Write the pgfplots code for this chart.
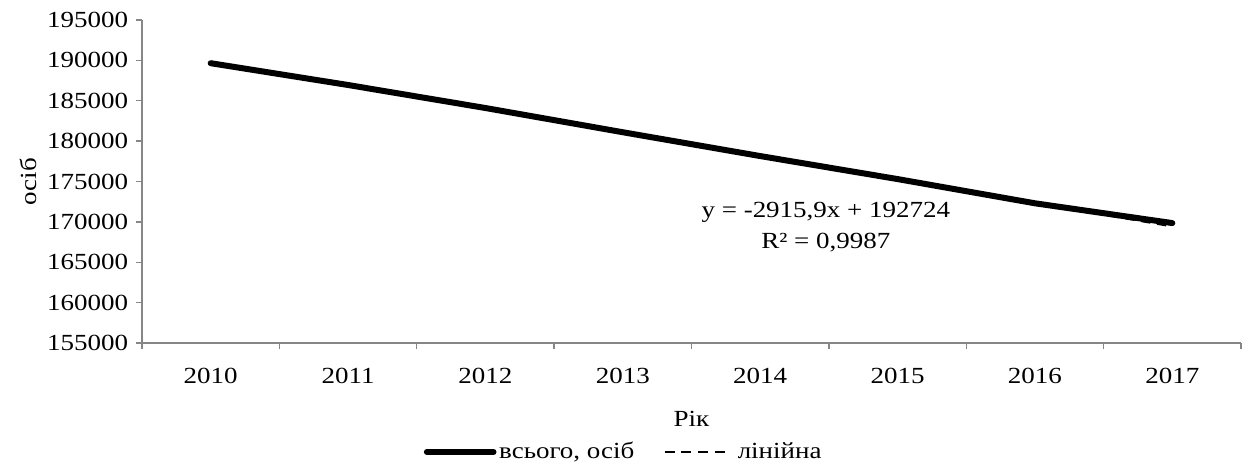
\documentclass[border=0pt]{standalone}
\usepackage{fontspec}
\setmainfont{Liberation Serif}[FakeStretch=1.17]
\usepackage{pgfplots}
\pgfplotsset{compat=1.18}
\definecolor{axgray}{RGB}{134,134,134}
\newcommand{\chartfont}{\fontsize{17.3}{20}\selectfont}
\begin{document}
\chartfont
\begin{tikzpicture}
\path[use as bounding box] (0,0) rectangle (937.5pt,349.5pt);
\begin{axis}[
  at={(106.5pt,92.25pt)}, anchor=south west,
  scale only axis, width=824.25pt, height=242.25pt,
  xmin=-0.5, xmax=7.5, ymin=155000, ymax=195000,
  ytick={155000,160000,...,195000},
  scaled y ticks=false,
  xtick={-0.5,0.5,...,7.5}, xticklabels={},
  extra x ticks={0,1,2,3,4,5,6,7},
  extra x tick labels={2010,2011,2012,2013,2014,2015,2016,2017},
  extra x tick style={major tick length=0pt},
  axis x line*=bottom, axis y line*=left,
  axis line style={axgray, line width=1.3pt, -},
  every tick/.style={axgray, line width=1.1pt},
  tick align=outside,
  major tick length=4.5pt,
  /pgf/number format/.cd, fixed, precision=0, 1000 sep={}, assume math mode=true,
  /pgfplots/.cd,
  ticklabel style={font=\chartfont, text=black},
  xticklabel style={anchor=base, yshift=-30.5pt},
  yticklabel style={anchor=east},
  ylabel={осіб},
  ylabel style={at={(rel axis cs:-0.1037,0.5)}, anchor=center, font=\chartfont},
  xlabel={Рік},
  xlabel style={at={(rel axis cs:0.5,-0.236)}, anchor=center, font=\chartfont},
  legend style={at={(rel axis cs:0.4386,-0.3375)}, anchor=center, draw=none, fill=none,
    font=\chartfont, legend columns=2,
    /tikz/every even column/.append style={column sep=20pt},
    inner sep=0pt},
  clip=false,
]
\addplot[black, line width=4.5pt, line cap=round, line join=round,
  legend image code/.code={\draw[black, line width=4.5pt, line cap=round] (0pt,0pt) -- (50pt,0pt);}]
  coordinates {(0,189650) (1,186950) (2,184100) (3,181100) (4,178150) (5,175300) (6,172300) (7,169850)};
\addlegendentry{всього, осіб}
\addplot[black, line width=1.1pt, dash pattern=on 7pt off 5pt,
  legend image code/.code={\draw[black, line width=1.6pt, dash pattern=on 7.5pt off 5pt] (0pt,0pt) -- (45pt,0pt);}]
  coordinates {(0,189808.1) (1,186892.2) (2,183976.3) (3,181060.4) (4,178144.5) (5,175228.6) (6,172312.7) (7,169396.8)};
\addlegendentry{\hspace{7pt}лінійна}
\node[align=center, font=\fontsize{17.3}{23.25}\selectfont] at (axis cs:4.478,169303) {y = -2915,9x + 192724\\R² = 0,9987};
\end{axis}
\end{tikzpicture}
\end{document}
